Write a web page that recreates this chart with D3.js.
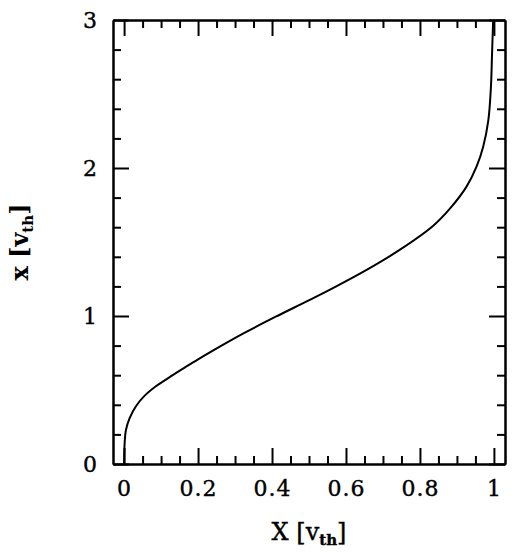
<!DOCTYPE html>
<html>
<head>
<meta charset="utf-8">
<script src="https://cdn.jsdelivr.net/npm/d3@7"></script>
<style>
  body { margin: 0; background: #fff; }
  text { font-family: "DejaVu Serif", serif; fill: #000; }
</style>
</head>
<body>
<div id="chart"></div>
<script>
// curve: X (horizontal) against x (vertical)
const curveX = [0.000, 0.001, 0.005, 0.015, 0.032, 0.055, 0.086, 0.125, 0.165, 0.200,
  0.240, 0.324, 0.414, 0.495, 0.566, 0.657, 0.746, 0.836, 0.881, 0.926,
  0.953, 0.971, 0.985, 0.992, 0.995, 0.998];
const curveY = [0.00, 0.117, 0.23, 0.31, 0.39, 0.46, 0.525, 0.59, 0.653, 0.707,
  0.766, 0.884, 1.00, 1.10, 1.19, 1.313, 1.448, 1.61, 1.725, 1.874,
  2.009, 2.144, 2.324, 2.55, 2.775, 3.0];

const xMajor = [0, 0.2, 0.4, 0.6, 0.8, 1];
const xMinor = [0.05, 0.1, 0.15, 0.25, 0.3, 0.35, 0.45, 0.5, 0.55, 0.65, 0.7, 0.75, 0.85, 0.9, 0.95];
const yMajor = [0, 1, 2, 3];
const yMinor = [0.2, 0.4, 0.6, 0.8, 1.2, 1.4, 1.6, 1.8, 2.2, 2.4, 2.6, 2.8];

const width = 521, height = 554;
const pLeft = 113, pRight = 505, pTop = 20, pBottom = 464;

const x = d3.scaleLinear().domain([-0.03, 1.03]).range([pLeft, pRight]);
const y = d3.scaleLinear().domain([0, 3]).range([pBottom, pTop]);

const svg = d3.select("#chart").append("svg")
  .attr("width", width)
  .attr("height", height);

function styleAxis(g) {
  g.selectAll("path.domain").attr("stroke", "#000").attr("stroke-width", 2);
  g.selectAll(".tick line").attr("stroke", "#000").attr("stroke-width", 2);
}
function styleLabels(g) {
  g.selectAll("text")
    .attr("font-size", 22)
    .attr("font-family", "DejaVu Serif")
    .attr("letter-spacing", 1)
    .attr("stroke", "#000")
    .attr("stroke-width", 0.4);
}

// bottom
svg.append("g").attr("transform", `translate(0,${pBottom})`)
  .call(d3.axisBottom(x).tickValues(xMajor).tickSize(-16).tickSizeOuter(0).tickPadding(16)
    .tickFormat(d3.format("")))
  .call(styleAxis)
  .call(styleLabels);
svg.append("g").attr("transform", `translate(0,${pBottom})`)
  .call(d3.axisBottom(x).tickValues(xMinor).tickSize(-8).tickSizeOuter(0).tickFormat(""))
  .call(styleAxis);

// top
svg.append("g").attr("transform", `translate(0,${pTop})`)
  .call(d3.axisTop(x).tickValues(xMajor).tickSize(-16).tickSizeOuter(0).tickFormat(""))
  .call(styleAxis);
svg.append("g").attr("transform", `translate(0,${pTop})`)
  .call(d3.axisTop(x).tickValues(xMinor).tickSize(-8).tickSizeOuter(0).tickFormat(""))
  .call(styleAxis);

// left
svg.append("g").attr("transform", `translate(${pLeft},0)`)
  .call(d3.axisLeft(y).tickValues(yMajor).tickSize(-16).tickSizeOuter(0).tickPadding(15)
    .tickFormat(d3.format("")))
  .call(styleAxis)
  .call(styleLabels);
svg.append("g").attr("transform", `translate(${pLeft},0)`)
  .call(d3.axisLeft(y).tickValues(yMinor).tickSize(-8).tickSizeOuter(0).tickFormat(""))
  .call(styleAxis);

// right
svg.append("g").attr("transform", `translate(${pRight},0)`)
  .call(d3.axisRight(y).tickValues(yMajor).tickSize(-16).tickSizeOuter(0).tickFormat(""))
  .call(styleAxis);
svg.append("g").attr("transform", `translate(${pRight},0)`)
  .call(d3.axisRight(y).tickValues(yMinor).tickSize(-8).tickSizeOuter(0).tickFormat(""))
  .call(styleAxis);

// the curve
const pts = curveX.map((d, i) => [d, curveY[i]]);
svg.append("path")
  .datum(pts)
  .attr("fill", "none")
  .attr("stroke", "#000")
  .attr("stroke-width", 2)
  .attr("d", d3.line().x(d => x(d[0])).y(d => y(d[1])).curve(d3.curveCatmullRom.alpha(0.5)));

// axis titles
const xt = svg.append("text")
  .attr("x", (pLeft + pRight) / 2)
  .attr("y", 540)
  .attr("text-anchor", "middle")
  .attr("font-size", 24)
  .attr("stroke", "#000")
  .attr("stroke-width", 0.4);
xt.append("tspan").text("X [v");
xt.append("tspan").attr("font-size", 15).attr("font-weight", "bold").attr("dy", 5).text("th");
xt.append("tspan").attr("dy", -5).text("]");

const yt = svg.append("text")
  .attr("transform", `translate(28,${(pTop + pBottom) / 2}) rotate(-90)`)
  .attr("text-anchor", "middle")
  .attr("font-size", 24)
  .attr("font-weight", "bold");
yt.append("tspan").text("x [v");
yt.append("tspan").attr("font-size", 15).attr("dy", 5).text("th");
yt.append("tspan").attr("dy", -5).text("]");
</script>
</body>
</html>
